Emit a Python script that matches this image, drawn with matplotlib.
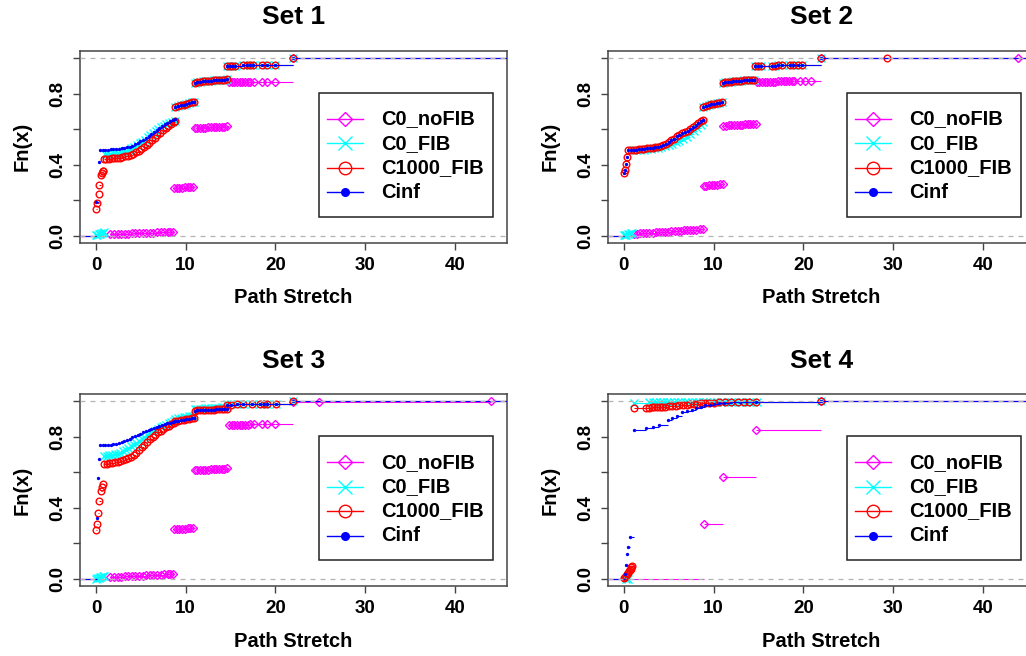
import matplotlib
matplotlib.use("Agg")
import matplotlib.pyplot as plt
from matplotlib.patches import Rectangle
import numpy as np

plt.rcParams['font.family'] = ['Liberation Sans', 'DejaVu Sans']
plt.rcParams['font.weight'] = 'bold'

# ---------------- data (ECDF knots) ----------------
# Set 1
s1_nofib_x = [1.6, 2.0, 2.4, 2.8, 3.2, 3.6, 4.0, 4.4, 4.8, 5.2, 5.6, 6.0, 6.4, 6.8, 7.2, 7.6, 8.0, 8.3, 8.6,
              8.7, 9.0, 9.3, 9.6, 9.9, 10.2, 10.5, 10.8,
              11.0, 11.3, 11.6, 11.9, 12.2, 12.5, 12.8, 13.1, 13.4, 13.7, 14.0, 14.3, 14.6,
              14.8, 15.1, 15.4, 15.7, 16.0, 16.3, 16.6, 16.9, 17.2, 17.6, 18.5, 19.0, 20.0, 22.0]
s1_nofib_y = [0.008, 0.009, 0.009, 0.010, 0.011, 0.011, 0.012, 0.013, 0.014, 0.015, 0.015, 0.016, 0.017, 0.018, 0.019, 0.019, 0.020, 0.021, 0.022,
              0.267, 0.268, 0.269, 0.270, 0.271, 0.272, 0.273, 0.274,
              0.606, 0.607, 0.608, 0.608, 0.609, 0.610, 0.610, 0.611, 0.612, 0.612, 0.613, 0.614, 0.615,
              0.864, 0.864, 0.865, 0.865, 0.865, 0.866, 0.866, 0.866, 0.867, 0.867, 0.867, 0.868, 0.868, 1.0]
s1_upper_x = [8.85, 9.15, 9.45, 9.75, 10.05, 10.35, 10.65, 10.95,
              11.0, 11.3, 11.6, 11.9, 12.2, 12.5, 12.8, 13.1, 13.4, 13.7, 14.0, 14.3, 14.55,
              14.6, 14.9, 15.2, 15.5, 16.4, 16.8, 17.2, 17.5, 18.5, 19.0, 20.0, 22.0]
s1_upper_y = [0.726, 0.730, 0.734, 0.738, 0.742, 0.746, 0.750, 0.754,
              0.862, 0.865, 0.867, 0.869, 0.870, 0.872, 0.873, 0.874, 0.876, 0.877, 0.878, 0.879, 0.880,
              0.957, 0.957, 0.958, 0.958, 0.959, 0.959, 0.959, 0.960, 0.960, 0.960, 0.961, 1.0]
s1_fib_x = [0.0, 0.15, 0.3, 0.45, 0.6, 0.75, 0.9,
            0.95, 1.25, 1.55, 1.85, 2.15, 2.45, 2.75, 3.05, 3.35, 3.65, 3.95, 4.25, 4.55, 4.85,
            5.15, 5.45, 5.75, 6.05, 6.35, 6.65, 6.95, 7.25, 7.55, 7.85, 8.15, 8.45, 8.75]
s1_fib_y = [0.002, 0.004, 0.007, 0.009, 0.012, 0.015, 0.018,
            0.460, 0.461, 0.462, 0.463, 0.465, 0.467, 0.470, 0.474, 0.479, 0.485, 0.492, 0.500, 0.509, 0.519,
            0.530, 0.541, 0.553, 0.565, 0.577, 0.589, 0.600, 0.610, 0.620, 0.629, 0.636, 0.642, 0.648]
s1_c1000_x = [0.0, 0.15, 0.3, 0.37, 0.55, 0.65, 0.75, 0.82,
              0.85, 1.15, 1.45, 1.75, 2.05, 2.35, 2.65, 2.95, 3.25, 3.55, 3.85, 4.15, 4.45, 4.75,
              5.05, 5.35, 5.65, 5.95, 6.25, 6.55, 6.85, 7.15, 7.45, 7.75, 8.05, 8.35, 8.65, 8.8]
s1_c1000_y = [0.150, 0.182, 0.233, 0.285, 0.340, 0.352, 0.362, 0.366,
              0.432, 0.433, 0.434, 0.435, 0.436, 0.437, 0.439, 0.442, 0.446, 0.450, 0.455, 0.461, 0.469, 0.478,
              0.488, 0.499, 0.511, 0.524, 0.537, 0.551, 0.565, 0.579, 0.593, 0.606, 0.619, 0.631, 0.641, 0.647]
s1_cinf_x = [0.0, 0.35,
             0.45, 0.75, 1.05, 1.35, 1.65, 1.95, 2.25, 2.55, 2.85, 3.15, 3.45, 3.75, 4.05, 4.35,
             4.65, 4.95, 5.25, 5.55, 5.85, 6.15, 6.45, 6.75, 7.05, 7.35, 7.65, 7.95, 8.25, 8.55, 8.8]
s1_cinf_y = [0.190, 0.415,
             0.482, 0.483, 0.484, 0.485, 0.486, 0.487, 0.488, 0.489, 0.491, 0.494, 0.497, 0.501, 0.507, 0.514,
             0.522, 0.531, 0.541, 0.552, 0.563, 0.574, 0.585, 0.596, 0.606, 0.616, 0.626, 0.635, 0.643, 0.650, 0.655]

# Set 2
s2_nofib_x = [1.1, 1.45, 1.8, 2.15, 2.5, 2.85, 3.2, 3.55, 3.9, 4.25, 4.6, 4.95, 5.3, 5.65, 6.0, 6.35, 6.7, 7.05,
              7.4, 7.75, 8.1, 8.45, 8.8,
              8.9, 9.2, 9.5, 9.8, 10.1, 10.4, 10.7, 11.0,
              11.1, 11.4, 11.7, 12.0, 12.3, 12.6, 12.9, 13.2, 13.5, 13.8, 14.1, 14.4, 14.7,
              14.8, 15.1, 15.4, 15.7, 16.0, 16.3, 16.6, 16.9, 17.2, 17.5, 17.8, 18.1, 18.4, 18.7, 19.0,
              19.6, 20.2, 20.9, 22.0, 43.9]
s2_nofib_y = [0.010, 0.011, 0.012, 0.014, 0.015, 0.016, 0.017, 0.018, 0.020, 0.021, 0.022, 0.023, 0.024, 0.026,
              0.027, 0.028, 0.029, 0.030, 0.032, 0.033, 0.034, 0.036, 0.037,
              0.281, 0.282, 0.283, 0.285, 0.286, 0.287, 0.288, 0.290,
              0.619, 0.620, 0.621, 0.622, 0.623, 0.623, 0.624, 0.625, 0.626, 0.627, 0.628, 0.629, 0.630,
              0.866, 0.866, 0.867, 0.867, 0.867, 0.868, 0.868, 0.868, 0.869, 0.869, 0.869, 0.870, 0.870, 0.870,
              0.871, 0.871, 0.872, 0.872, 0.999, 1.0]
s2_low_x = [0.05, 0.15, 0.25, 0.35]
s2_low_y = [0.350, 0.370, 0.403, 0.440]
s2_band_x = [0.5, 0.8, 1.1, 1.4, 1.7, 2.0, 2.3, 2.6, 2.9, 3.2, 3.5, 3.8, 4.1, 4.4, 4.7,
             5.0, 5.3, 5.6, 5.9, 6.2, 6.5, 6.8, 7.1, 7.4, 7.7, 8.0, 8.3, 8.6, 8.8]
s2_band_y = [0.482, 0.483, 0.484, 0.485, 0.486, 0.488, 0.489, 0.491, 0.493, 0.495, 0.497, 0.501, 0.505, 0.510, 0.517,
             0.526, 0.536, 0.547, 0.559, 0.569, 0.577, 0.584, 0.592, 0.603, 0.614, 0.624, 0.634, 0.643, 0.650]
s2_upper_x = [8.85, 9.15, 9.45, 9.75, 10.05, 10.35, 10.65, 10.95,
              11.0, 11.3, 11.6, 11.9, 12.2, 12.5, 12.8, 13.1, 13.4, 13.7, 14.0, 14.3, 14.55,
              14.6, 15.0, 15.3, 16.5, 16.9, 17.2, 17.6, 18.5, 18.9, 19.4, 19.8]
s2_upper_y = [0.727, 0.731, 0.735, 0.739, 0.742, 0.745, 0.748, 0.752,
              0.862, 0.865, 0.867, 0.868, 0.870, 0.871, 0.872, 0.873, 0.874, 0.875, 0.876, 0.877, 0.878,
              0.957, 0.957, 0.958, 0.958, 0.958, 0.959, 0.959, 0.959, 0.960, 0.960, 0.960]
s2_fib_low_x = [0.0, 0.15, 0.3, 0.45, 0.6, 0.75, 0.9]
s2_fib_low_y = [0.002, 0.004, 0.006, 0.008, 0.010, 0.012, 0.014]
s2_fib_band_x = [1.0, 1.4, 1.8, 2.2, 2.6, 3.0, 3.4, 3.8, 4.2, 4.6, 5.0, 5.4, 5.8, 6.2, 6.6, 7.0, 7.4, 7.8,
                 8.2, 8.6, 8.8]
s2_fib_band_y = [0.480, 0.482, 0.483, 0.485, 0.487, 0.489, 0.492, 0.495, 0.499, 0.504, 0.510, 0.517, 0.525,
                 0.534, 0.545, 0.557, 0.571, 0.587, 0.604, 0.622, 0.638]

# Set 3
s3_nofib_x = [1.6, 2.0, 2.4, 2.8, 3.2, 3.6, 4.0, 4.4, 4.8, 5.2, 5.6, 6.0, 6.4, 6.8, 7.2, 7.6, 8.0, 8.3, 8.6,
              8.7, 9.0, 9.3, 9.6, 9.9, 10.2, 10.5, 10.8,
              11.0, 11.3, 11.6, 11.9, 12.2, 12.5, 12.8, 13.1, 13.4, 13.7, 14.0, 14.3, 14.6,
              14.8, 15.1, 15.4, 15.7, 16.0, 16.3, 16.6, 16.9, 17.2, 17.6, 18.5, 19.0, 19.9,
              22.0, 24.8, 44.0]
s3_nofib_y = [0.010, 0.011, 0.012, 0.013, 0.014, 0.015, 0.016, 0.017, 0.018, 0.019, 0.020, 0.021, 0.022, 0.023,
              0.024, 0.026, 0.027, 0.028, 0.030,
              0.279, 0.280, 0.281, 0.282, 0.283, 0.284, 0.285, 0.287,
              0.612, 0.613, 0.614, 0.614, 0.615, 0.616, 0.617, 0.618, 0.618, 0.619, 0.620, 0.621, 0.622,
              0.867, 0.867, 0.868, 0.868, 0.868, 0.869, 0.869, 0.869, 0.870, 0.870, 0.870, 0.871, 0.871,
              0.996, 0.998, 1.0]
s3_upper_x = [8.85, 9.15, 9.45, 9.75, 10.05, 10.35, 10.65, 10.95,
              11.0, 11.3, 11.6, 11.9, 12.2, 12.5, 12.8, 13.1, 13.4, 13.7, 14.0, 14.3, 14.55,
              14.6, 15.0, 15.7, 16.4, 17.4, 18.3, 18.7, 19.0, 20.1, 22.0]
s3_upper_y = [0.887, 0.890, 0.893, 0.896, 0.899, 0.902, 0.904, 0.906,
              0.948, 0.949, 0.950, 0.951, 0.952, 0.953, 0.953, 0.954, 0.955, 0.956, 0.956, 0.957, 0.958,
              0.982, 0.982, 0.983, 0.983, 0.984, 0.984, 0.984, 0.985, 0.985, 1.0]
s3_fib_upper_y = [0.903, 0.906, 0.909, 0.911, 0.913, 0.915, 0.917, 0.919,
                  0.957, 0.958, 0.959, 0.960, 0.961, 0.962, 0.963, 0.963, 0.964, 0.965, 0.966, 0.967, 0.968,
                  0.984, 0.984, 0.985, 0.985, 0.986, 0.986, 0.986, 0.987, 0.987, 1.0]
s3_band_x = [0.9, 1.2, 1.5, 1.8, 2.1, 2.4, 2.7, 3.0, 3.3, 3.6, 3.9, 4.2, 4.5, 4.8,
             5.1, 5.4, 5.7, 6.0, 6.3, 6.6, 6.9, 7.2, 7.5, 7.8, 8.1, 8.4, 8.7]
s3_c1000_low_x = [0.0, 0.15, 0.26, 0.37, 0.52, 0.67, 0.8]
s3_c1000_low_y = [0.273, 0.310, 0.373, 0.437, 0.495, 0.517, 0.536]
s3_c1000_band_y = [0.649, 0.650, 0.651, 0.653, 0.656, 0.659, 0.663, 0.668, 0.674, 0.681, 0.689, 0.699, 0.711,
                   0.725, 0.741, 0.757, 0.773, 0.788, 0.801, 0.813, 0.825, 0.836, 0.846, 0.855, 0.864, 0.872, 0.879]
s3_fib_band_y = [0.692, 0.694, 0.696, 0.699, 0.702, 0.706, 0.712, 0.719, 0.727, 0.736, 0.746, 0.756, 0.766,
                 0.777, 0.788, 0.798, 0.808, 0.818, 0.827, 0.836, 0.845, 0.853, 0.861, 0.868, 0.876, 0.884, 0.891]
s3_cinf_x = [0.08, 0.2, 0.33,
             0.45, 0.75, 1.05, 1.35, 1.65, 1.95, 2.25, 2.55, 2.85, 3.15, 3.45, 3.75, 4.05, 4.35,
             4.65, 4.95, 5.25, 5.55, 5.85, 6.15, 6.45, 6.75, 7.05, 7.35, 7.65, 7.95, 8.25, 8.55, 8.8]
s3_cinf_y = [0.342, 0.567, 0.675,
             0.752, 0.752, 0.753, 0.754, 0.756, 0.758, 0.761, 0.765, 0.770, 0.776, 0.782, 0.789, 0.797, 0.805,
             0.812, 0.819, 0.826, 0.832, 0.839, 0.845, 0.851, 0.857, 0.863, 0.868, 0.873, 0.877, 0.881, 0.885, 0.888]

# Set 4
s4_nofib_x = [8.9, 11.1, 14.7, 22.0]
s4_nofib_y = [0.310, 0.574, 0.837, 1.0]
s4_fib_x = [0.2, 0.5, 1.1, 2.8, 3.2, 3.6, 4.0, 4.4, 4.8, 5.2, 5.6, 6.0, 6.4, 6.8, 7.2, 7.6, 8.0, 8.4, 8.8,
            9.2, 9.6, 10.0, 10.4, 10.8, 11.2, 11.6, 12.0, 12.4, 12.8, 13.2, 13.6, 14.0, 14.4, 14.8, 22.0]
s4_fib_y = [0.001, 0.002, 0.993, 0.994, 0.994, 0.994, 0.995, 0.995, 0.995, 0.995, 0.996, 0.996, 0.996, 0.996,
            0.997, 0.997, 0.997, 0.997, 0.997, 0.998, 0.998, 0.998, 0.998, 0.998, 0.998, 0.999, 0.999, 0.999,
            0.999, 0.999, 0.999, 0.999, 0.999, 0.999, 1.0]
s4_c1000_x = [0.05, 0.15, 0.25, 0.35, 0.45, 0.55, 0.65, 0.75, 0.85, 0.95, 1.1, 2.5,
              2.8, 3.1, 3.4, 3.7, 4.0, 4.3, 4.6, 5.0, 5.4, 5.8, 6.2, 6.6, 7.0, 7.4, 7.8, 8.2, 8.6,
              9.0, 9.5, 10.0, 10.6, 11.3, 12.0, 12.7, 13.4, 14.0, 14.7, 22.0]
s4_c1000_y = [0.003, 0.010, 0.018, 0.026, 0.034, 0.042, 0.050, 0.058, 0.065, 0.072, 0.962, 0.963,
              0.965, 0.966, 0.967, 0.968, 0.969, 0.970, 0.971, 0.972, 0.974, 0.976, 0.978, 0.980, 0.982, 0.984,
              0.986, 0.988, 0.990, 0.991, 0.992, 0.993, 0.994, 0.995, 0.996, 0.996, 0.997, 0.997, 0.998, 1.0]
s4_cinf_x = [0.1, 0.2, 0.37, 0.44, 0.67, 1.1, 2.5, 3.2, 3.9, 4.9, 5.4, 5.9, 6.5, 7.0, 7.6,
             8.1, 8.6, 9.1, 9.6, 10.1, 10.6, 11.2, 12.0, 13.0, 14.7, 22.0]
s4_cinf_y = [0.030, 0.080, 0.138, 0.180, 0.236, 0.840, 0.852, 0.857, 0.865, 0.895, 0.905, 0.915, 0.938, 0.944,
             0.950, 0.962, 0.970, 0.977, 0.982, 0.986, 0.990, 0.993, 0.995, 0.996, 0.997, 1.0]

panels = [
    ("Set 1", [(s1_nofib_x, s1_nofib_y),
               (s1_fib_x + s1_upper_x, s1_fib_y + s1_upper_y),
               (s1_c1000_x + s1_upper_x, s1_c1000_y + s1_upper_y),
               (s1_cinf_x + s1_upper_x, s1_cinf_y + s1_upper_y)]),
    ("Set 2", [(s2_nofib_x, s2_nofib_y),
               (s2_fib_low_x + s2_fib_band_x + s2_upper_x + [22.0], s2_fib_low_y + s2_fib_band_y + s2_upper_y + [1.0]),
               (s2_low_x + s2_band_x + s2_upper_x + [22.0, 29.3], s2_low_y + s2_band_y + s2_upper_y + [0.998, 1.0]),
               (s2_low_x + s2_band_x + s2_upper_x + [22.0], s2_low_y + s2_band_y + s2_upper_y + [1.0])]),
    ("Set 3", [(s3_nofib_x, s3_nofib_y),
               (s1_fib_x[:7] + s3_band_x + s3_upper_x, s1_fib_y[:7] + s3_fib_band_y + s3_fib_upper_y),
               (s3_c1000_low_x + s3_band_x + s3_upper_x, s3_c1000_low_y + s3_c1000_band_y + s3_upper_y),
               (s3_cinf_x + s3_upper_x, s3_cinf_y + s3_upper_y)]),
    ("Set 4", [(s4_nofib_x, s4_nofib_y),
               (s4_fib_x, s4_fib_y),
               (s4_c1000_x, s4_c1000_y),
               (s4_cinf_x, s4_cinf_y)]),
]

labels = ['C0_noFIB', 'C0_FIB', 'C1000_FIB', 'Cinf']
colors = ['#FF00FF', '#00FFFF', '#FF0000', '#0000FF']
markers = ['D', 'x', 'o', 'o']
msize = [3.6, 5.5, 4.8, 1.4]
leg_msize = [7.5, 10.0, 9.0, 5.5]
fills = ['none', 'none', 'none', '#0000FF']

XL = (-1.76, 45.76)
YL = (-0.04, 1.04)
frame_col = '#444444'

fig = plt.figure(figsize=(10.26, 6.56), dpi=100)
W, H = 1026.0, 656.0
boxes = [(80.2, 51.0), (608.0, 51.0), (80.2, 394.3), (608.0, 394.3)]
aw, ah = 426.5, 191.7

for (title, series), (lx, ty) in zip(panels, boxes):
    ax = fig.add_axes([lx / W, 1 - (ty + ah) / H, aw / W, ah / H])
    for i, (xs, ys) in enumerate(series):
        xs = np.array(xs)
        ys = np.array(ys)
        xr = np.append(xs[1:], XL[1])
        ax.hlines(ys, xs, xr, colors=colors[i], lw=0.8, zorder=2 + 2 * i)
        ax.hlines(0, XL[0], xs[0], colors=colors[i], lw=0.8, zorder=2 + 2 * i)
        ax.plot(xs, ys, ls='none', marker=markers[i], ms=msize[i], mec=colors[i], mfc=fills[i],
                mew=1.0, zorder=3 + 2 * i)
    for h in (0, 1):
        ax.axhline(h, color='#B3B3B3', lw=0.9, ls=(0, (4, 4)), zorder=12)

    ax.set_xlim(XL)
    ax.set_ylim(YL)
    ax.set_xticks([0, 10, 20, 30, 40])
    ax.set_yticks([0, 0.2, 0.4, 0.6, 0.8, 1.0])
    ax.set_yticklabels(['0.0', '', '0.4', '', '0.8', ''], rotation=90, va='center')
    ax.tick_params(direction='out', length=5, width=1, color=frame_col, labelsize=13.5, pad=5)
    for sp in ax.spines.values():
        sp.set_color(frame_col)
        sp.set_linewidth(1.1)

    ax.text(0.5, 1.175, title, transform=ax.transAxes, ha='center', va='center', fontsize=19,
            fontweight='bold')
    ax.text(0.5, -0.288, 'Path Stretch', transform=ax.transAxes, ha='center', va='center',
            fontsize=14.5, fontweight='bold')
    ax.text(-0.136, 0.5, 'Fn(x)', transform=ax.transAxes, ha='center', va='center', rotation=90,
            fontsize=14.5, fontweight='bold')

    # legend box
    ax.add_patch(Rectangle((0.56, 0.136), 0.408, 0.644, transform=ax.transAxes, facecolor='white',
                           edgecolor='#222222', lw=1.1, zorder=30))
    rows = [0.645, 0.518, 0.391, 0.263]
    for i, ry in enumerate(rows):
        ax.plot([0.578, 0.663], [ry, ry], color=colors[i], lw=1.0, transform=ax.transAxes,
                clip_on=False, zorder=31)
        ax.plot([0.6205], [ry], marker=markers[i], ms=leg_msize[i], mec=colors[i], mfc=fills[i],
                mew=1.0, transform=ax.transAxes, clip_on=False, zorder=32)
        ax.text(0.705, ry, labels[i], transform=ax.transAxes, ha='left', va='center',
                fontsize=14.5, fontweight='bold', zorder=33)

fig.savefig('out.png', dpi=100)
